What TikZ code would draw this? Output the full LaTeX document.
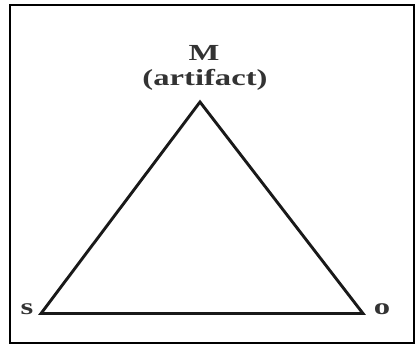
\documentclass[tikz,border=0pt]{standalone}
\usepackage{fontspec}
\setmainfont{Liberation Serif}
\usetikzlibrary{positioning}
\tikzset{
  % Labels at the corners of the triangle (text looks stretched sideways).
  corner-label/.style={
    font=\fontsize{23}{25}\selectfont\bfseries,
    text=black!80,
    inner sep=0pt,
    xscale=1.42,
  },
  % Sides of the triangle.
  side/.style={draw=black!90, line width=2.9pt, line join=miter},
  % Outer frame.
  frame/.style={draw=black, line width=1.4pt},
}
\begin{document}
\begin{tikzpicture}[x=1pt, y=1pt]

  \useasboundingbox (0,0) rectangle (417,345);
  \draw[frame] (10,2) rectangle (414,340);

  % Corners of the triangle.
  \coordinate (m) at (200,243);
  \coordinate (s) at (41,31.5);
  \coordinate (o) at (363,31.5);

  \draw[side] (s) -- (m) -- (o) -- cycle;

  % Labels.
  \node[corner-label] (m-label) at (204,292) {M};
  \node[corner-label] (art-label) at (205,265) {(artifact)};
  \node[corner-label] (s-label) at (27,36) {s};
  \node[corner-label] (o-label) at (382,36) {o};

\end{tikzpicture}
\end{document}
